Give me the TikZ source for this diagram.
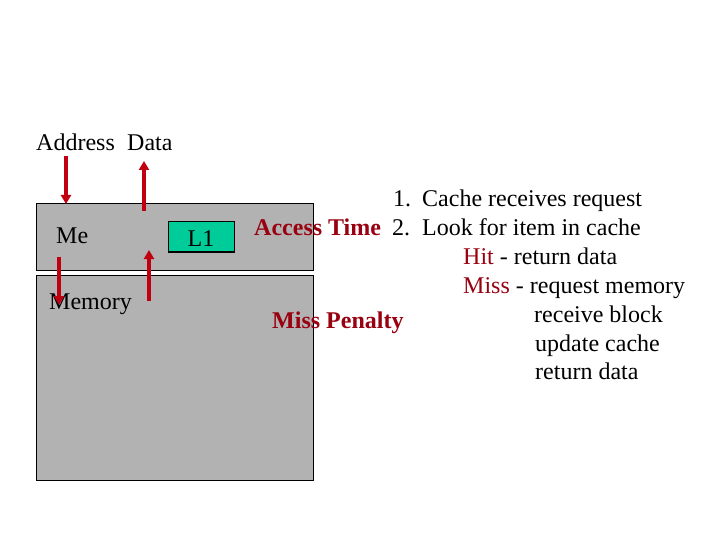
\documentclass[tikz,border=0pt]{standalone}
\usepackage{fontspec}
\setmainfont{Liberation Serif}
\usetikzlibrary{arrows.meta}
\definecolor{boxgray}{HTML}{B2B2B2}
\definecolor{lonegreen}{HTML}{00CC99}
\definecolor{arrowred}{HTML}{C00010}
\definecolor{textred}{HTML}{990010}
\tikzset{
  every node/.style={inner sep=0pt, font=\fontsize{24bp}{28.8bp}\selectfont},
  membox/.style={draw=black, line width=1bp, fill=boxgray, rectangle},
  txt/.style={anchor=base west},
  redtxt/.style={anchor=base west, text=textred, font=\fontsize{24bp}{28.8bp}\selectfont\bfseries},
  bus/.style={draw=arrowred, line width=3.5bp, -{Triangle[width=10bp,length=9bp]}},
}
\begin{document}
\begin{tikzpicture}[x=1bp,y=-1bp]
\useasboundingbox (0,0) rectangle (720,540);
% boxes
\node[membox, minimum width=276bp, minimum height=66bp] (cache) at (175,237) {};
\node[membox, minimum width=276bp, minimum height=204bp] (mem) at (175,378) {};
\node[draw=black, line width=1bp, fill=lonegreen, minimum width=66bp, minimum height=30bp] (l1) at (201,237) {};
\node[anchor=base] (l1t) at (201,247) {L1};
% labels
\node[txt] (addr) at (36,150.5) {Address};
\node[txt] (data) at (127,150.5) {Data};
\node[txt] (me) at (56,244) {Me};
\node[txt] (memt) at (49,309) {Memory};
\node[redtxt] (acc) at (254,236) {Access Time};
\node[redtxt] (pen) at (272,328) {Miss Penalty};
% list
\node[txt] (n1) at (393,207) {1.};
\node[txt] (s1) at (422,207) {Cache receives request};
\node[txt] (n2) at (392,236) {2.};
\node[txt] (s2) at (422,236) {Look for item in cache};
\node[txt] (s3) at (463,264.6) {\textcolor{textred}{Hit} - return data};
\node[txt] (s4) at (463,293.4) {\textcolor{textred}{Miss} - request memory};
\node[txt] (s5) at (534,322.2) {receive block};
\node[txt] (s6) at (535,351) {update cache};
\node[txt] (s7) at (535,379.8) {return data};
% arrows
\coordinate (a1s) at (66,156);
\coordinate (a1e) at (66,204);
\coordinate (a2s) at (144,211);
\coordinate (a2e) at (144,161);
\coordinate (a3s) at (59,257);
\coordinate (a3e) at (59,305);
\coordinate (a4s) at (149,301);
\coordinate (a4e) at (149,250);
\draw[bus] (a1s) -- (a1e);
\draw[bus] (a2s) -- (a2e);
\draw[bus] (a3s) -- (a3e);
\draw[bus] (a4s) -- (a4e);
\end{tikzpicture}
\end{document}
